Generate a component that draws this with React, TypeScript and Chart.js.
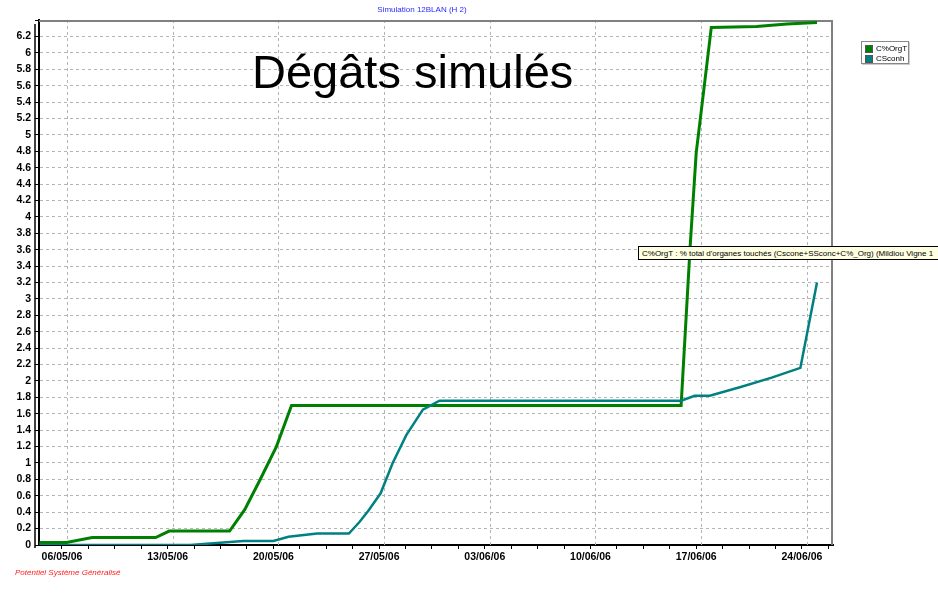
import React, { useEffect, useRef } from "react";
import { Chart, registerables } from "chart.js";

Chart.register(...registerables);

// Day offsets relative to 06/05/06
const weekDays = [0, 7, 14, 21, 28, 35, 42, 49];
const weekLabels = ["06/05/06", "13/05/06", "20/05/06", "27/05/06", "03/06/06", "10/06/06", "17/06/06", "24/06/06"];
const minorStep = 1.75;

const seriesNames = ["C%OrgT", "CSconh"];
const seriesColors = ["#008000", "#008080"];

const orgDays = [-1.5, 0.3, 2.0, 6.2, 7.1, 11.1, 12.1, 13.1, 14.2, 15.2, 41.0, 41.6, 42.0, 42.4, 43.0, 46.0, 48.0, 50.0];
const orgValues = [0.03, 0.03, 0.09, 0.09, 0.17, 0.17, 0.43, 0.79, 1.2, 1.7, 1.7, 3.64, 4.78, 5.39, 6.31, 6.32, 6.35, 6.37];

const sconhDays = [-1.5, 8.5, 12.0, 14.0, 15.0, 16.9, 19.0, 19.7, 20.3, 21.1, 21.9, 22.8, 23.9, 25.0, 41.0, 41.9, 42.9, 45.0, 47.0, 48.9, 50.0];
const sconhValues = [0, 0, 0.05, 0.05, 0.1, 0.14, 0.14, 0.28, 0.42, 0.63, 1.0, 1.34, 1.65, 1.76, 1.76, 1.82, 1.82, 1.93, 2.04, 2.16, 3.2];

const yMin = 0;
const yMax = 6.4;
const yStep = 0.2;
const xMin = -1.523;
const xMax = 51.06;

const gridColor = "#b4b4b4";
const isWeek = (v: number) => Math.abs(v / 7 - Math.round(v / 7)) < 1e-6;

const framePlugin = {
  id: "frame",
  beforeDatasetsDraw(chart: any) {
    const { ctx, chartArea } = chart;
    const xs = chart.scales.x;
    ctx.save();
    // vertical weekly grid lines (slightly offset as in the original software)
    ctx.strokeStyle = gridColor;
    ctx.lineWidth = 1;
    ctx.setLineDash([3, 3]);
    weekDays.forEach((d) => {
      const px = Math.round(xs.getPixelForValue(d)) + 5.5;
      if (px < chartArea.right - 2) {
        ctx.beginPath();
        ctx.moveTo(px, chartArea.top);
        ctx.lineTo(px, chartArea.bottom);
        ctx.stroke();
      }
    });
    ctx.setLineDash([]);
    ctx.strokeStyle = "#808080";
    ctx.lineWidth = 2;
    ctx.beginPath();
    ctx.moveTo(chartArea.left, chartArea.top + 1);
    ctx.lineTo(chartArea.right - 1, chartArea.top + 1);
    ctx.lineTo(chartArea.right - 1, chartArea.bottom);
    ctx.stroke();
    ctx.strokeStyle = "#000";
    ctx.lineWidth = 1.5;
    ctx.beginPath();
    ctx.moveTo(chartArea.left - 4, chartArea.top + 4);
    ctx.lineTo(chartArea.left - 4, chartArea.bottom + 3);
    ctx.stroke();
    ctx.restore();
  },
};

function DamageChart() {
  const ref = useRef<HTMLCanvasElement | null>(null);
  useEffect(() => {
    if (!ref.current) return;
    const toPts = (xs: number[], ys: number[]) => xs.map((x, i) => ({ x, y: ys[i] }));
    const chart = new Chart(ref.current, {
      type: "line",
      data: {
        datasets: [
          {
            label: seriesNames[0],
            data: toPts(orgDays, orgValues),
            borderColor: seriesColors[0],
            backgroundColor: seriesColors[0],
            borderWidth: 3,
            pointRadius: 0,
            tension: 0,
            order: 1,
          },
          {
            label: seriesNames[1],
            data: toPts(sconhDays, sconhValues),
            borderColor: seriesColors[1],
            backgroundColor: seriesColors[1],
            borderWidth: 2.5,
            pointRadius: 0,
            tension: 0,
            order: 0,
          },
        ],
      },
      options: {
        responsive: false,
        animation: false,
        layout: { padding: { top: 20, right: 105, left: 0, bottom: 0 } },
        plugins: { legend: { display: false }, title: { display: false }, tooltip: { enabled: false } },
        scales: {
          x: {
            type: "linear",
            min: xMin,
            max: xMax,
            afterFit(scale: any) {
              scale.height = 51;
            },
            afterBuildTicks(scale: any) {
              const t: any[] = [];
              for (let i = 0; i * minorStep <= xMax; i++) t.push({ value: i * minorStep });
              scale.ticks = t;
            },
            ticks: {
              autoSkip: false,
              maxRotation: 0,
              padding: 2,
              color: "#000",
              font: { family: "'Liberation Sans', Arial, sans-serif", size: 10.5, weight: "bold" },
              callback(v: any) {
                const n = Number(v);
                if (!isWeek(n)) return "";
                const idx = weekDays.indexOf(Math.round(n));
                return idx >= 0 ? weekLabels[idx] : "";
              },
            },
            grid: {
              color: "rgba(0,0,0,0)",
              lineWidth: 1,
              drawTicks: true,
              tickLength: 4,
              tickColor: "#000",
              tickBorderDash: [],
            },
            border: { display: true, color: "#000", width: 2 },
          },
          y: {
            type: "linear",
            min: yMin,
            max: yMax,
            afterFit(scale: any) {
              scale.width = 39;
            },
            afterBuildTicks(scale: any) {
              const t: any[] = [];
              const n = Math.round((yMax - yMin) / yStep);
              for (let i = 0; i <= n; i++) t.push({ value: Number((yMin + i * yStep).toFixed(1)) });
              scale.ticks = t;
            },
            ticks: {
              padding: 4,
              color: "#000",
              font: { family: "'Liberation Sans', Arial, sans-serif", size: 10.5, weight: "bold" },
              callback(v: any) {
                const n = Number(v);
                if (n >= yMax - 1e-6) return "";
                return String(Number(n.toFixed(1)));
              },
            },
            grid: {
              color: (c: any) => (c.tick && (c.tick.value <= 1e-6 || c.tick.value >= yMax - 1e-6) ? "rgba(0,0,0,0)" : gridColor),
              lineWidth: 1,
              drawTicks: true,
              tickLength: 4,
              tickColor: "#000",
              tickBorderDash: [],
            },
            border: { display: true, color: "#000", width: 2, dash: [3, 3] },
          },
        },
      } as any,
      plugins: [framePlugin],
    });
    return () => chart.destroy();
  }, []);

  const font = "'Liberation Sans', Arial, sans-serif";
  return (
    <div
      style={{
        position: "absolute",
        left: 0,
        top: 0,
        width: 938,
        height: 596,
        background: "#fff",
        overflow: "hidden",
        fontFamily: font,
      }}
    >
      <canvas ref={ref} width={938} height={596} style={{ position: "absolute", left: 0, top: 0, width: 938, height: 596 }} />
      <div
        style={{
          position: "absolute",
          left: 322,
          width: 200,
          top: 5,
          textAlign: "center",
          fontSize: 8,
          color: "#2a2aff",
          lineHeight: "10px",
        }}
      >
        Simulation 12BLAN (H 2)
      </div>
      <div
        style={{
          position: "absolute",
          left: 252,
          top: 48,
          fontSize: 47,
          lineHeight: "47px",
          color: "#000",
          whiteSpace: "nowrap",
        }}
      >
        Dégâts simulés
      </div>
      <div
        style={{
          position: "absolute",
          left: 861,
          top: 41,
          width: 46,
          height: 21,
          background: "#fff",
          border: "1px solid #888",
          boxShadow: "1px 1px 0 #ccc",
        }}
      >
        {seriesNames.map((name, i) => (
          <div key={name} style={{ position: "absolute", left: 3, top: 2 + i * 10, height: 9, display: "flex", alignItems: "center" }}>
            <span style={{ display: "inline-block", width: 8, height: 8, background: seriesColors[i], border: "1px solid #555", boxSizing: "border-box" }} />
            <span style={{ marginLeft: 3, fontSize: 8, lineHeight: "9px", color: "#000", whiteSpace: "nowrap" }}>{name}</span>
          </div>
        ))}
      </div>
      <div
        style={{
          position: "absolute",
          left: 638,
          top: 246,
          width: 330,
          height: 14,
          background: "#ffffe1",
          border: "1px solid #000",
          fontSize: 8,
          lineHeight: "14px",
          paddingLeft: 3,
          whiteSpace: "nowrap",
          color: "#000",
          boxSizing: "border-box",
        }}
      >
        C%OrgT : % total d'organes touchés (Cscone+SSconc+C%_Org) (Mildiou Vigne 1
      </div>
      <div
        style={{
          position: "absolute",
          left: 15,
          top: 568,
          fontSize: 8,
          fontStyle: "italic",
          color: "#ff2020",
          whiteSpace: "nowrap",
          lineHeight: "10px",
        }}
      >
        Potentiel Système Généralisé
      </div>
    </div>
  );
}

export default function App() {
  return <DamageChart />;
}
